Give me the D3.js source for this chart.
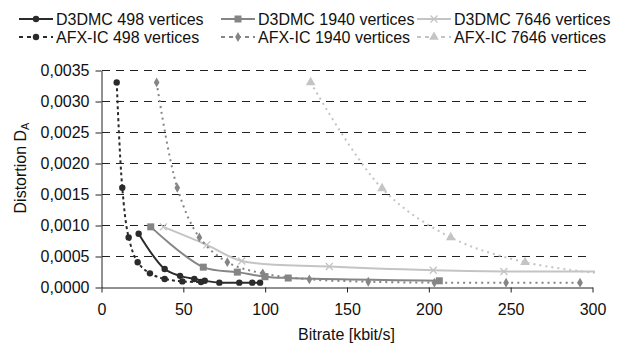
<!DOCTYPE html>
<html>
<head>
<meta charset="utf-8">
<script src="https://cdn.jsdelivr.net/npm/d3@7"></script>
<style>
  body { margin: 0; background: #fff; }
  text { font-family: "Liberation Sans", Arial, sans-serif; }
</style>
</head>
<body>
<div id="chart"></div>
<script>
// values
const xTicks = [0, 50, 100, 150, 200, 250, 300]
const yTicks = [0, 0.0005, 0.001, 0.0015, 0.002, 0.0025, 0.003, 0.0035]

const d3dmc498X = [23, 38.9, 48.3, 57, 63.4, 72.3, 84.5, 92.4, 97.2]
const d3dmc498Y = [0.00086, 0.00029, 0.00018, 0.00013, 0.0001, 0.00007, 0.00007, 0.00007, 0.00007]

const d3dmc1940X = [30.4, 62.5, 83.3, 100.2, 114.4, 206.7]
const d3dmc1940Y = [0.00097, 0.00032, 0.00024, 0.000166, 0.000145, 0.0001]

// last point sits just past the 300 edge (line runs off the plot)
const d3dmc7646X = [38.1, 64.6, 86, 139.5, 203, 246.2, 305]
const d3dmc7646Y = [0.00097, 0.00068, 0.00042, 0.00033, 0.00027, 0.00025, 0.00025]

const afx498X = [9.6, 13, 16.9, 22.4, 29.9, 38.9, 49.7, 61.1]
const afx498Y = [0.0033, 0.0016, 0.0008, 0.0004, 0.00022, 0.00013, 0.00009, 0.00008]

const afx1940X = [34, 46.6, 60.1, 77.2, 98.8, 127.3, 163.3, 203.7, 247.5, 292.7]
const afx1940Y = [0.0033, 0.0016, 0.0008, 0.0004, 0.00022, 0.000124, 0.000085, 0.00007, 0.00007, 0.00007]

const afx7646X = [128.1, 171.7, 213.7, 259.1, 305]
const afx7646Y = [0.0033, 0.00159, 0.0008, 0.0004, 0.00022]

const zip = (xs, ys) => xs.map((x, i) => ({ x: x, y: ys[i] }))

const series = [
  { name: 'D3DMC 498 vertices', data: zip(d3dmc498X, d3dmc498Y), color: '#2b2b2b', dash: null, marker: 'circle' },
  { name: 'D3DMC 1940 vertices', data: zip(d3dmc1940X, d3dmc1940Y), color: '#858585', dash: null, marker: 'square' },
  { name: 'D3DMC 7646 vertices', data: zip(d3dmc7646X, d3dmc7646Y), color: '#c4c4c4', dash: null, marker: 'cross' },
  { name: 'AFX-IC 498 vertices', data: zip(afx498X, afx498Y), color: '#2b2b2b', dash: '3,3', marker: 'circle' },
  { name: 'AFX-IC 1940 vertices', data: zip(afx1940X, afx1940Y), color: '#858585', dash: '2,4', marker: 'diamond' },
  { name: 'AFX-IC 7646 vertices', data: zip(afx7646X, afx7646Y), color: '#c4c4c4', dash: '2,4', marker: 'triangle' },
]

const width = 618
const height = 347
const plot = { left: 101, right: 592, top: 70, bottom: 287 }

const svg = d3.select('#chart').append('svg')
  .attr('width', width)
  .attr('height', height)

svg.append('rect').attr('width', width).attr('height', height).attr('fill', '#fff')

const x = d3.scaleLinear().domain([0, 300]).range([plot.left, plot.right])
const y = d3.scaleLinear().domain([0, 0.0035]).range([plot.bottom, plot.top])

// dashed grid
svg.append('g')
  .selectAll('line')
  .data(yTicks.filter(d => d > 0))
  .enter()
  .append('line')
  .attr('x1', plot.left + 1)
  .attr('x2', plot.right)
  .attr('y1', d => Math.round(y(d)) + 0.5)
  .attr('y2', d => Math.round(y(d)) + 0.5)
  .attr('stroke', '#222')
  .attr('stroke-dasharray', '8,6')

// axes
const yAxis = svg.append('g')
  .attr('transform', `translate(${plot.left + 0.5},0.5)`)
  .call(d3.axisLeft(y).tickValues(yTicks).tickSize(6).tickPadding(6).tickSizeOuter(0)
    .tickFormat(d => d.toFixed(4).replace('.', ',')))

const xAxis = svg.append('g')
  .attr('transform', `translate(0.5,${plot.bottom + 0.5})`)
  .call(d3.axisBottom(x).tickValues(xTicks).tickSize(5).tickPadding(11).tickSizeOuter(0))

;[yAxis, xAxis].forEach(a => {
  a.selectAll('path, line').attr('stroke', '#222')
  a.selectAll('text').attr('font-size', 16).attr('fill', '#111')
    .style('font-family', '"Liberation Sans", Arial, sans-serif')
})

// axis titles
svg.append('text')
  .attr('x', (plot.left + plot.right) / 2)
  .attr('y', 340)
  .attr('text-anchor', 'middle')
  .attr('font-size', 16)
  .attr('fill', '#111')
  .text('Bitrate [kbit/s]')

const yTitle = svg.append('text')
  .attr('transform', 'translate(26,168) rotate(-90)')
  .attr('text-anchor', 'middle')
  .attr('font-size', 16)
  .attr('fill', '#111')
yTitle.append('tspan').text('Distortion D')
yTitle.append('tspan').attr('font-size', 11).attr('dy', 3).text('A')

function drawMarker(g, type, color, cx, cy) {
  if (type === 'circle') {
    g.append('circle').attr('cx', cx).attr('cy', cy).attr('r', 3.2).attr('fill', color)
  } else if (type === 'square') {
    g.append('rect').attr('x', cx - 3.5).attr('y', cy - 3.5).attr('width', 7).attr('height', 7).attr('fill', color)
  } else if (type === 'diamond') {
    g.append('path').attr('d', d3.symbol(d3.symbolDiamond, 28)()).attr('transform', `translate(${cx},${cy})`).attr('fill', color)
  } else if (type === 'triangle') {
    g.append('path').attr('d', d3.symbol(d3.symbolTriangle, 40)()).attr('transform', `translate(${cx},${cy})`).attr('fill', color)
  } else if (type === 'cross') {
    g.append('path').attr('d', `M${cx - 3.5},${cy - 3.5}L${cx + 3.5},${cy + 3.5}M${cx - 3.5},${cy + 3.5}L${cx + 3.5},${cy - 3.5}`)
      .attr('stroke', color).attr('stroke-width', 1.3).attr('fill', 'none')
  }
}

const line = d3.line()
  .x(d => x(d.x))
  .y(d => y(d.y))
  .curve(d3.curveCatmullRom.alpha(0.5))

svg.append('clipPath').attr('id', 'clip')
  .append('rect').attr('x', plot.left).attr('y', plot.top - 10).attr('width', plot.right - plot.left + 3).attr('height', plot.bottom - plot.top + 10)

// draw light series first so dark ones sit on top
const order = [2, 5, 1, 4, 0, 3]
order.forEach(i => {
  const s = series[i]
  const g = svg.append('g').attr('clip-path', 'url(#clip)')
  g.append('path')
    .datum(s.data)
    .attr('d', line)
    .attr('fill', 'none')
    .attr('stroke', s.color)
    .attr('stroke-width', 2)
    .attr('stroke-dasharray', s.dash)
  s.data.forEach(d => drawMarker(g, s.marker, s.color, x(d.x), y(d.y)))
})

// legend
const legendCols = [19, 221, 417]
const legendRows = [19, 37]
series.forEach((s, i) => {
  const lx = legendCols[i % 3]
  const ly = legendRows[Math.floor(i / 3)]
  const g = svg.append('g')
  g.append('line')
    .attr('x1', lx).attr('x2', lx + 34)
    .attr('y1', ly).attr('y2', ly)
    .attr('stroke', s.color)
    .attr('stroke-width', 2)
    .attr('stroke-dasharray', s.dash ? '4,4' : null)
  drawMarker(g, s.marker, s.color, lx + 17, ly)
  g.append('text')
    .attr('x', lx + 37)
    .attr('y', ly + 5.5)
    .attr('font-size', 16)
    .attr('fill', '#111')
    .text(s.name)
})
</script>
</body>
</html>
